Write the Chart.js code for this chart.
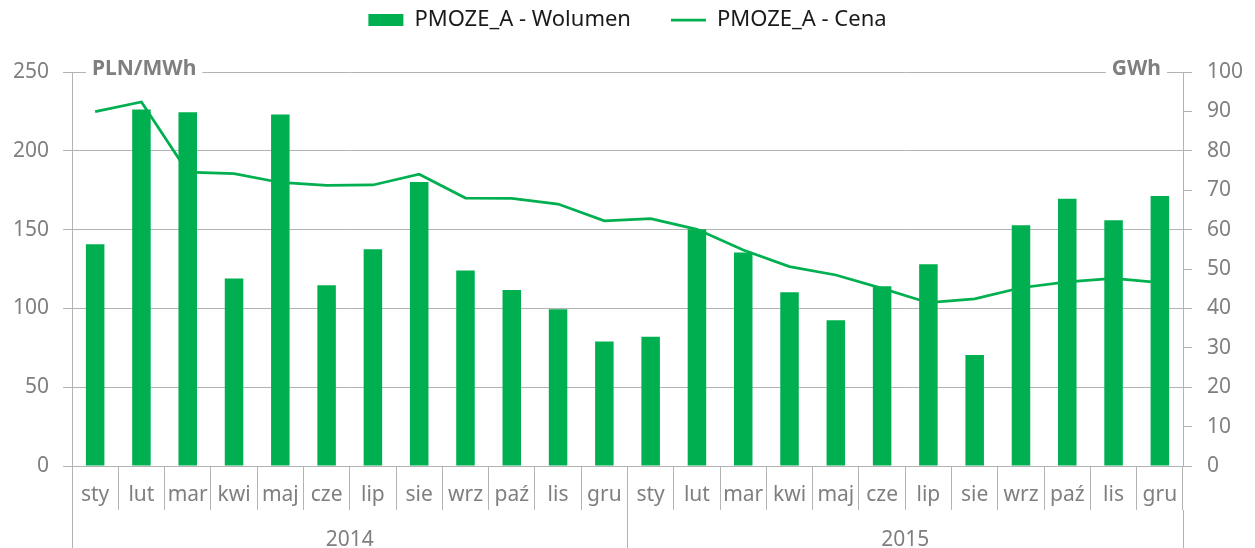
<!DOCTYPE html>
<html lang="pl">
<head>
<meta charset="utf-8">
<title>PMOZE_A – wolumen i cena</title>
<script src="https://cdn.jsdelivr.net/npm/chart.js@4.4.1/dist/chart.umd.min.js"></script>
<style>
  html, body { margin: 0; background: #fff; }
  #wrap { width: 1255px; height: 548px; position: relative; }
</style>
</head>
<body>
<div id="wrap"><canvas id="chart"></canvas></div>
<script>
// Dane (2014–2015, miesięcznie)
const months = ['sty', 'lut', 'mar', 'kwi', 'maj', 'cze', 'lip', 'sie', 'wrz', 'paź', 'lis', 'gru'];
const years = ['2014', '2015'];
const volumeGWh = [56.3, 90.5, 89.8, 47.6, 89.2, 45.9, 55.0, 72.1, 49.6, 44.7, 39.8, 31.6,
                   32.8, 60.1, 54.2, 44.1, 37.0, 45.6, 51.2, 28.2, 61.1, 67.8, 62.4, 68.5];
const pricePLN = [224.8, 231.0, 186.5, 185.5, 179.9, 178.1, 178.3, 185.1, 170.0, 169.8, 166.2, 155.6,
                  156.9, 150.2, 137.0, 126.5, 121.2, 112.7, 103.6, 106.0, 113.1, 116.9, 119.1, 116.3];
const seriesNames = ['PMOZE_A - Wolumen', 'PMOZE_A - Cena'];
const unitLeft = 'PLN/MWh';
const unitRight = 'GWh';

const categories = years.flatMap(() => months);

const green = '#00b050';
const gridGray = '#b3b3b3';
const textGray = '#7f7f7f';
const font = '"Noto Sans", "Open Sans", sans-serif';

// jednostki osi na białym tle, nad linią siatki
const unitTags = {
  id: 'unitTags',
  beforeDatasetsDraw(chart) {
    const { ctx, chartArea: a } = chart;
    ctx.save();
    ctx.font = 'bold 21px ' + font;
    ctx.textBaseline = 'middle';
    ctx.textAlign = 'left';
    const put = (txt, x, alignRight) => {
      const w = ctx.measureText(txt).width;
      const x0 = alignRight ? x - w : x;
      ctx.fillStyle = '#fff';
      ctx.fillRect(x0 - 6, a.top - 12, w + 12, 22);
      ctx.fillStyle = textGray;
      ctx.fillText(txt, x0, a.top - 3);
    };
    put(unitLeft, a.left + 20, false);
    put(unitRight, a.right - 22, true);
    ctx.restore();
  }
};

new Chart(document.getElementById('chart'), {
  data: {
    labels: categories,
    datasets: [
      {
        type: 'bar',
        label: seriesNames[0],
        data: volumeGWh,
        yAxisID: 'y1',
        backgroundColor: green,
        borderWidth: 0,
        barPercentage: 0.4,
        categoryPercentage: 1,
        pointStyle: 'rect',
        order: 0,
      },
      {
        type: 'line',
        label: seriesNames[1],
        data: pricePLN,
        yAxisID: 'y',
        borderColor: green,
        backgroundColor: green,
        borderWidth: 2.75,
        pointRadius: 0,
        pointHoverRadius: 0,
        tension: 0,
        pointStyle: 'line',
        order: 1,
      },
    ],
  },
  options: {
    responsive: true,
    maintainAspectRatio: false,
    animation: false,
    events: [],
    layout: { padding: { top: -31, left: 0, right: 0, bottom: 0 } },
    plugins: {
      legend: {
        position: 'top',
        labels: {
          usePointStyle: true,
          pointStyleWidth: 35,
          boxHeight: 12,
          padding: 40,
          color: '#1a1a1a',
          font: { family: font, size: 22 },
        },
      },
      // odstęp między legendą a wykresem
      title: {
        display: true,
        text: '',
        weight: 500,
        font: { size: 10, lineHeight: 1 },
        padding: { top: 0, bottom: 21 },
      },
      tooltip: { enabled: false },
    },
    scales: {
      x: {
        type: 'category',
        position: 'bottom',
        offset: true,
        grid: { offset: true, drawOnChartArea: false, tickLength: 44, color: gridGray },
        border: { display: true, color: gridGray },
        ticks: {
          autoSkip: false, maxRotation: 0, padding: -28,
          color: textGray, font: { family: font, size: 21 },
        },
        afterFit: (s) => { s.height = 44; },
      },
      year: {
        type: 'category',
        position: 'bottom',
        labels: years,
        offset: true,
        grid: { offset: true, drawOnChartArea: false, tickLength: 38, color: gridGray },
        border: { display: false },
        ticks: {
          autoSkip: false, maxRotation: 0, padding: -21,
          color: textGray, font: { family: font, size: 21 },
        },
        afterFit: (s) => { s.height = 38; },
      },
      y: {
        position: 'left',
        min: 0,
        max: 250,
        ticks: { stepSize: 50, padding: 14, color: textGray, font: { family: font, size: 21 } },
        grid: { color: gridGray, tickLength: 9 },
        border: { display: true, color: gridGray },
        afterFit: (s) => { s.width = 72; },
      },
      y1: {
        position: 'right',
        min: 0,
        max: 100,
        ticks: { stepSize: 10, padding: 15, color: textGray, font: { family: font, size: 21 } },
        grid: { drawOnChartArea: false, color: gridGray, tickLength: 9 },
        border: { display: true, color: gridGray },
        afterFit: (s) => { s.width = 72; },
      },
    },
  },
  plugins: [unitTags],
});
</script>
</body>
</html>
